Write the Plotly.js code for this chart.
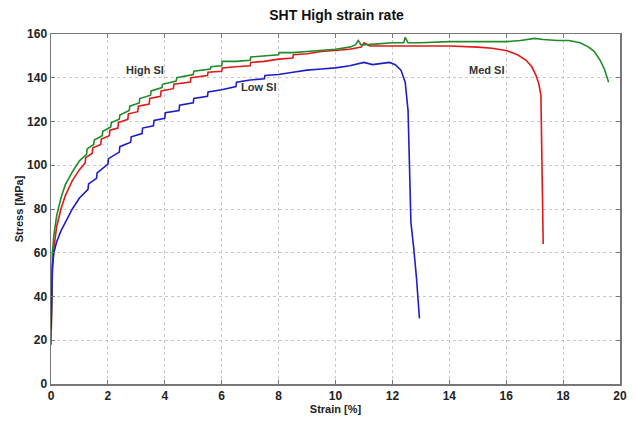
<!DOCTYPE html>
<html>
<head>
<meta charset="utf-8">
<script src="https://cdn.plot.ly/plotly-3.0.1.min.js"></script>
<style>html,body{margin:0;padding:0;background:#fff;}#chart{width:635px;height:426px;}</style>
</head>
<body>
<div id="chart"></div>
<script>
const seriesNames = ["High SI", "Med SI", "Low SI"];

const highX = [0, 0.02, 0.05, 0.1, 0.2, 0.35, 0.5, 0.75, 1.0, 1.25, 1.27, 1.5, 1.52, 1.8, 1.82, 2.1, 2.12, 2.4, 2.42, 2.75, 2.77, 3.1, 3.12, 3.5, 3.52, 3.9, 3.92, 4.4, 4.42, 5.0, 5.02, 5.6, 5.62, 6.0, 6.02, 6.5, 7.0, 7.02, 7.5, 8.0, 8.02, 8.5, 9.0, 9.5, 10.0, 10.5, 10.7, 10.8, 10.9, 11.5, 12.0, 12.4, 12.45, 12.55, 13, 14, 15, 16, 16.5, 17.0, 17.3, 17.8, 18.2, 18.6, 18.9, 19.1, 19.3, 19.45, 19.55, 19.6];
const highY = [20, 50, 60, 68, 77, 85, 91, 97, 102, 105, 107.5, 109.5, 111.5, 113.5, 115.5, 117.5, 119.5, 121, 123, 125, 127, 128.5, 130.5, 132, 134, 135.5, 137, 138.5, 140, 141.5, 143, 144, 145, 145.5, 147.5, 147.5, 148, 149.5, 150, 150.5, 151.5, 151.5, 152, 152.5, 153, 154, 155, 157, 155, 155.5, 156, 156, 158.5, 156, 156, 156.5, 156.5, 156.5, 157, 158, 157.5, 157, 157, 156, 154, 152, 148, 144, 140, 138];

const medX = [0, 0.02, 0.05, 0.1, 0.2, 0.35, 0.5, 0.75, 1.0, 1.2, 1.22, 1.45, 1.47, 1.75, 1.77, 2.05, 2.07, 2.35, 2.37, 2.7, 2.72, 3.05, 3.07, 3.45, 3.47, 3.85, 3.87, 4.3, 4.32, 4.9, 4.92, 5.5, 5.52, 6.0, 6.02, 6.5, 7.0, 7.02, 7.5, 8.0, 8.5, 8.52, 9.0, 9.5, 10.0, 10.5, 10.9, 11.0, 11.2, 12, 13, 14, 15, 15.5, 16.0, 16.4, 16.7, 16.9, 17.05, 17.15, 17.22, 17.25, 17.27, 17.3];
const medY = [18, 40, 52, 62, 72, 80, 86, 93, 98, 101, 103.5, 105.5, 108, 109.5, 112, 113.5, 116, 117, 119.5, 121, 123.5, 124.5, 127, 128, 130.5, 131.5, 134, 135, 137, 138, 140, 141, 142.5, 143, 144.5, 145, 145.5, 147, 147.5, 148.5, 149, 150.5, 151, 152, 152.5, 153, 154, 156, 154.5, 154.5, 154.5, 154.5, 154, 153.5, 152.5, 150.5, 148, 145, 141, 137, 132, 115, 90, 64];

const lowX = [0, 0.02, 0.05, 0.1, 0.2, 0.35, 0.5, 0.75, 1.0, 1.3, 1.32, 1.6, 1.62, 2.0, 2.02, 2.4, 2.42, 2.8, 2.82, 3.2, 3.22, 3.6, 3.62, 4.0, 4.02, 4.5, 4.52, 5.0, 5.02, 5.5, 5.52, 6.0, 6.5, 6.52, 7.0, 7.5, 7.52, 8.0, 8.5, 9.0, 9.5, 10.0, 10.5, 11.0, 11.3, 11.6, 11.9, 12.1, 12.3, 12.45, 12.55, 12.6, 12.62, 12.65, 12.75, 12.85, 12.95];
const lowY = [25, 45, 54, 60, 65, 70, 74, 80, 85, 89, 91.5, 94, 96.5, 100.5, 103, 106, 108.5, 110.5, 113, 114.5, 117, 118, 120.5, 121.5, 124, 125, 127.5, 128.5, 130.5, 131.5, 133.5, 134.5, 136, 138, 139, 139.5, 141, 141.5, 142.5, 143.5, 144, 144.5, 145.5, 147, 146, 146.5, 147, 146, 143.5, 138, 125, 100, 80, 74, 62, 48, 30];

const labelX = [3.3, 15.3, 7.3];
const labelY = [143.5, 143.5, 135.8];

const xTicks = [0, 2, 4, 6, 8, 10, 12, 14, 16, 18, 20];
const yTicks = [0, 20, 40, 60, 80, 100, 120, 140, 160];

const FONT = '"Liberation Sans Narrow", "Arial Narrow", "Liberation Sans", Arial, sans-serif';

const traces = [
  {x: medX, y: medY, mode: 'lines', line: {color: 'rgb(225,25,25)', width: 1.6}, name: seriesNames[1]},
  {x: highX, y: highY, mode: 'lines', line: {color: 'rgb(30,140,40)', width: 1.6}, name: seriesNames[0]},
  {x: lowX, y: lowY, mode: 'lines', line: {color: 'rgb(30,30,200)', width: 1.6}, name: seriesNames[2]}
];

const axisCommon = {
  showline: true, mirror: 'ticks', linecolor: '#777', linewidth: 1.5,
  ticks: 'inside', ticklen: 4, tickcolor: '#777',
  showgrid: true, gridcolor: '#c8c8c8', griddash: 'dot', gridwidth: 1,
  zeroline: false,
  tickfont: {family: FONT, size: 12, color: '#222', weight: 'bold'}
};

const layout = {
  width: 635, height: 426,
  margin: {l: 51, r: 15, t: 34, b: 42},
  paper_bgcolor: '#fff', plot_bgcolor: '#fff',
  showlegend: false,
  title: {text: 'SHT High strain rate', x: 0.53, xanchor: 'center', y: 0.965, yanchor: 'middle',
          font: {family: FONT, size: 14, color: '#111', weight: 'bold'}},
  xaxis: Object.assign({}, axisCommon, {range: [0, 20], tickvals: xTicks, ticktext: xTicks.map(String),
          title: {text: 'Strain [%]', standoff: 2, font: {family: FONT, size: 11, color: '#222', weight: 'bold'}}}),
  yaxis: Object.assign({}, axisCommon, {range: [0, 160], tickvals: yTicks, ticktext: yTicks.map(String),
          title: {text: 'Stress [MPa]', standoff: 1, font: {family: FONT, size: 11, color: '#222', weight: 'bold'}}}),
  annotations: seriesNames.map((n, i) => ({
    x: labelX[i], y: labelY[i], xref: 'x', yref: 'y', text: n, showarrow: false,
    font: {family: FONT, size: 11, color: '#333', weight: 'bold'}
  }))
};

Plotly.newPlot('chart', traces, layout, {displayModeBar: false, staticPlot: true});
</script>
</body>
</html>
